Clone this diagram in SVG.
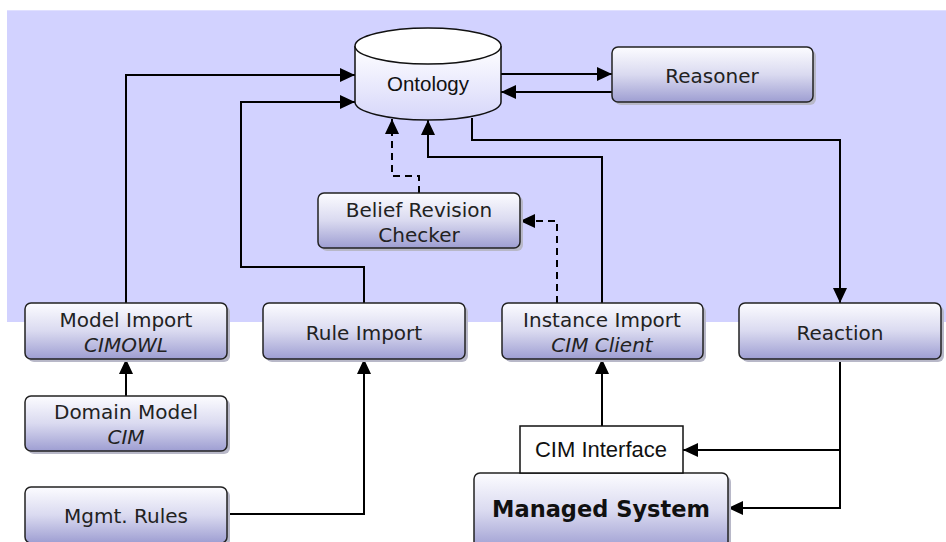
<svg xmlns="http://www.w3.org/2000/svg" width="946" height="542" viewBox="0 0 946 542">
<defs>
<linearGradient id="g" x1="0" y1="0" x2="0" y2="1">
<stop offset="0" stop-color="#FCFCFF"/>
<stop offset="0.5" stop-color="#DADAF0"/>
<stop offset="1" stop-color="#9E9ED2"/>
</linearGradient>
<linearGradient id="cyl" x1="0" y1="0" x2="0" y2="1">
<stop offset="0" stop-color="#FFFFFF"/>
<stop offset="1" stop-color="#D6D6FA"/>
</linearGradient>
<marker id="ah" markerWidth="16" markerHeight="14" refX="15" refY="7" orient="auto" markerUnits="userSpaceOnUse">
<path d="M0,0 L15,7 L0,14 z" fill="#000"/>
</marker>
</defs>
<style>
.box{fill:url(#g);stroke:#222;stroke-width:1.5}
.sh{fill:#B8B8C8}
.t{font-family:"DejaVu Sans",Verdana,sans-serif;font-size:20px;fill:#222;text-anchor:middle}
.i{font-style:italic}
.a{font-family:"Liberation Sans",Arial,sans-serif;font-size:20.5px;fill:#111;text-anchor:middle}
.c{fill:none;stroke:#000;stroke-width:2}
.d{stroke-dasharray:7,5}
</style>
<rect x="7" y="10" width="939" height="312" fill="#D2D2FF"/>
<line x1="7" y1="10.5" x2="946" y2="10.5" stroke="#E0E0FF" stroke-width="1"/>

<g id="connectors">
<path class="c" d="M126,303 V75 H355" marker-end="url(#ah)"/>
<path class="c" d="M364,303 V267 H241 V102 H355" marker-end="url(#ah)"/>
<path class="c" d="M501,74 H612" marker-end="url(#ah)"/>
<path class="c" d="M612,92 H501" marker-end="url(#ah)"/>
<path class="c" d="M472,118 V140 H840 V303" marker-end="url(#ah)"/>
<path class="c" d="M602,303 V157 H428 V120" marker-end="url(#ah)"/>
<path class="c d" d="M419,193 V176 H392 V119" marker-end="url(#ah)"/>
<path class="c d" d="M557,303 V221 H520" marker-end="url(#ah)"/>
<path class="c" d="M126,396 V359" marker-end="url(#ah)"/>
<path class="c" d="M227,514 H364 V359" marker-end="url(#ah)"/>
<path class="c" d="M602,426 V359" marker-end="url(#ah)"/>
<path class="c" d="M840,359 V450 H683" marker-end="url(#ah)"/>
<path class="c" d="M840,450 V508 H728" marker-end="url(#ah)"/>
</g>

<g id="ontology">
<path d="M355,46 V102 A73,18 0 0 0 501,102 V46" fill="url(#cyl)" stroke="#111" stroke-width="1.5"/>
<ellipse cx="428" cy="46" rx="73" ry="18" fill="#FFFFFF" stroke="#111" stroke-width="1.5"/>
<text class="a" x="428" y="91">Ontology</text>
</g>

<g id="reasoner">
<rect class="sh" x="615" y="50" width="201" height="55" rx="6"/>
<rect class="box" x="612" y="47" width="201" height="55" rx="6"/>
<text class="t" x="712" y="83">Reasoner</text>
</g>

<g id="belief-revision-checker">
<rect class="sh" x="321" y="196" width="202" height="55" rx="6"/>
<rect class="box" x="318" y="193" width="202" height="55" rx="6"/>
<text class="t" x="419" y="217">Belief Revision</text>
<text class="t" x="419" y="242">Checker</text>
</g>

<g id="model-import">
<rect class="sh" x="28" y="306" width="202" height="56" rx="6"/>
<rect class="box" x="25" y="303" width="202" height="56" rx="6"/>
<text class="t" x="126" y="327">Model Import</text>
<text class="t i" x="126" y="352">CIMOWL</text>
</g>

<g id="rule-import">
<rect class="sh" x="266" y="306" width="202" height="56" rx="6"/>
<rect class="box" x="263" y="303" width="202" height="56" rx="6"/>
<text class="t" x="364" y="340">Rule Import</text>
</g>

<g id="instance-import">
<rect class="sh" x="505" y="306" width="201" height="56" rx="6"/>
<rect class="box" x="502" y="303" width="201" height="56" rx="6"/>
<text class="t" x="602" y="327">Instance Import</text>
<text class="t i" x="602" y="352">CIM Client</text>
</g>

<g id="reaction">
<rect class="sh" x="742" y="306" width="202" height="56" rx="6"/>
<rect class="box" x="739" y="303" width="202" height="56" rx="6"/>
<text class="t" x="840" y="340">Reaction</text>
</g>

<g id="domain-model">
<rect class="sh" x="28" y="399" width="202" height="55" rx="6"/>
<rect class="box" x="25" y="396" width="202" height="55" rx="6"/>
<text class="t" x="126" y="419">Domain Model</text>
<text class="t i" x="126" y="444">CIM</text>
</g>

<g id="mgmt-rules">
<rect class="sh" x="28" y="490" width="202" height="56" rx="6"/>
<rect class="box" x="25" y="487" width="202" height="56" rx="6"/>
<text class="t" x="126" y="523">Mgmt. Rules</text>
</g>

<g id="managed-system">
<rect class="sh" x="477" y="476" width="254" height="76" rx="6"/>
<rect class="box" x="474" y="473" width="254" height="76" rx="6"/>
<text class="t" x="601" y="517" style="font-weight:bold;font-size:22.5px;fill:#111">Managed System</text>
</g>

<g id="cim-interface">
<rect x="520" y="426" width="163" height="47" fill="#FFFFFF" stroke="#111" stroke-width="1.5"/>
<text class="a" x="601" y="457" style="font-size:22px">CIM Interface</text>
</g>
</svg>
